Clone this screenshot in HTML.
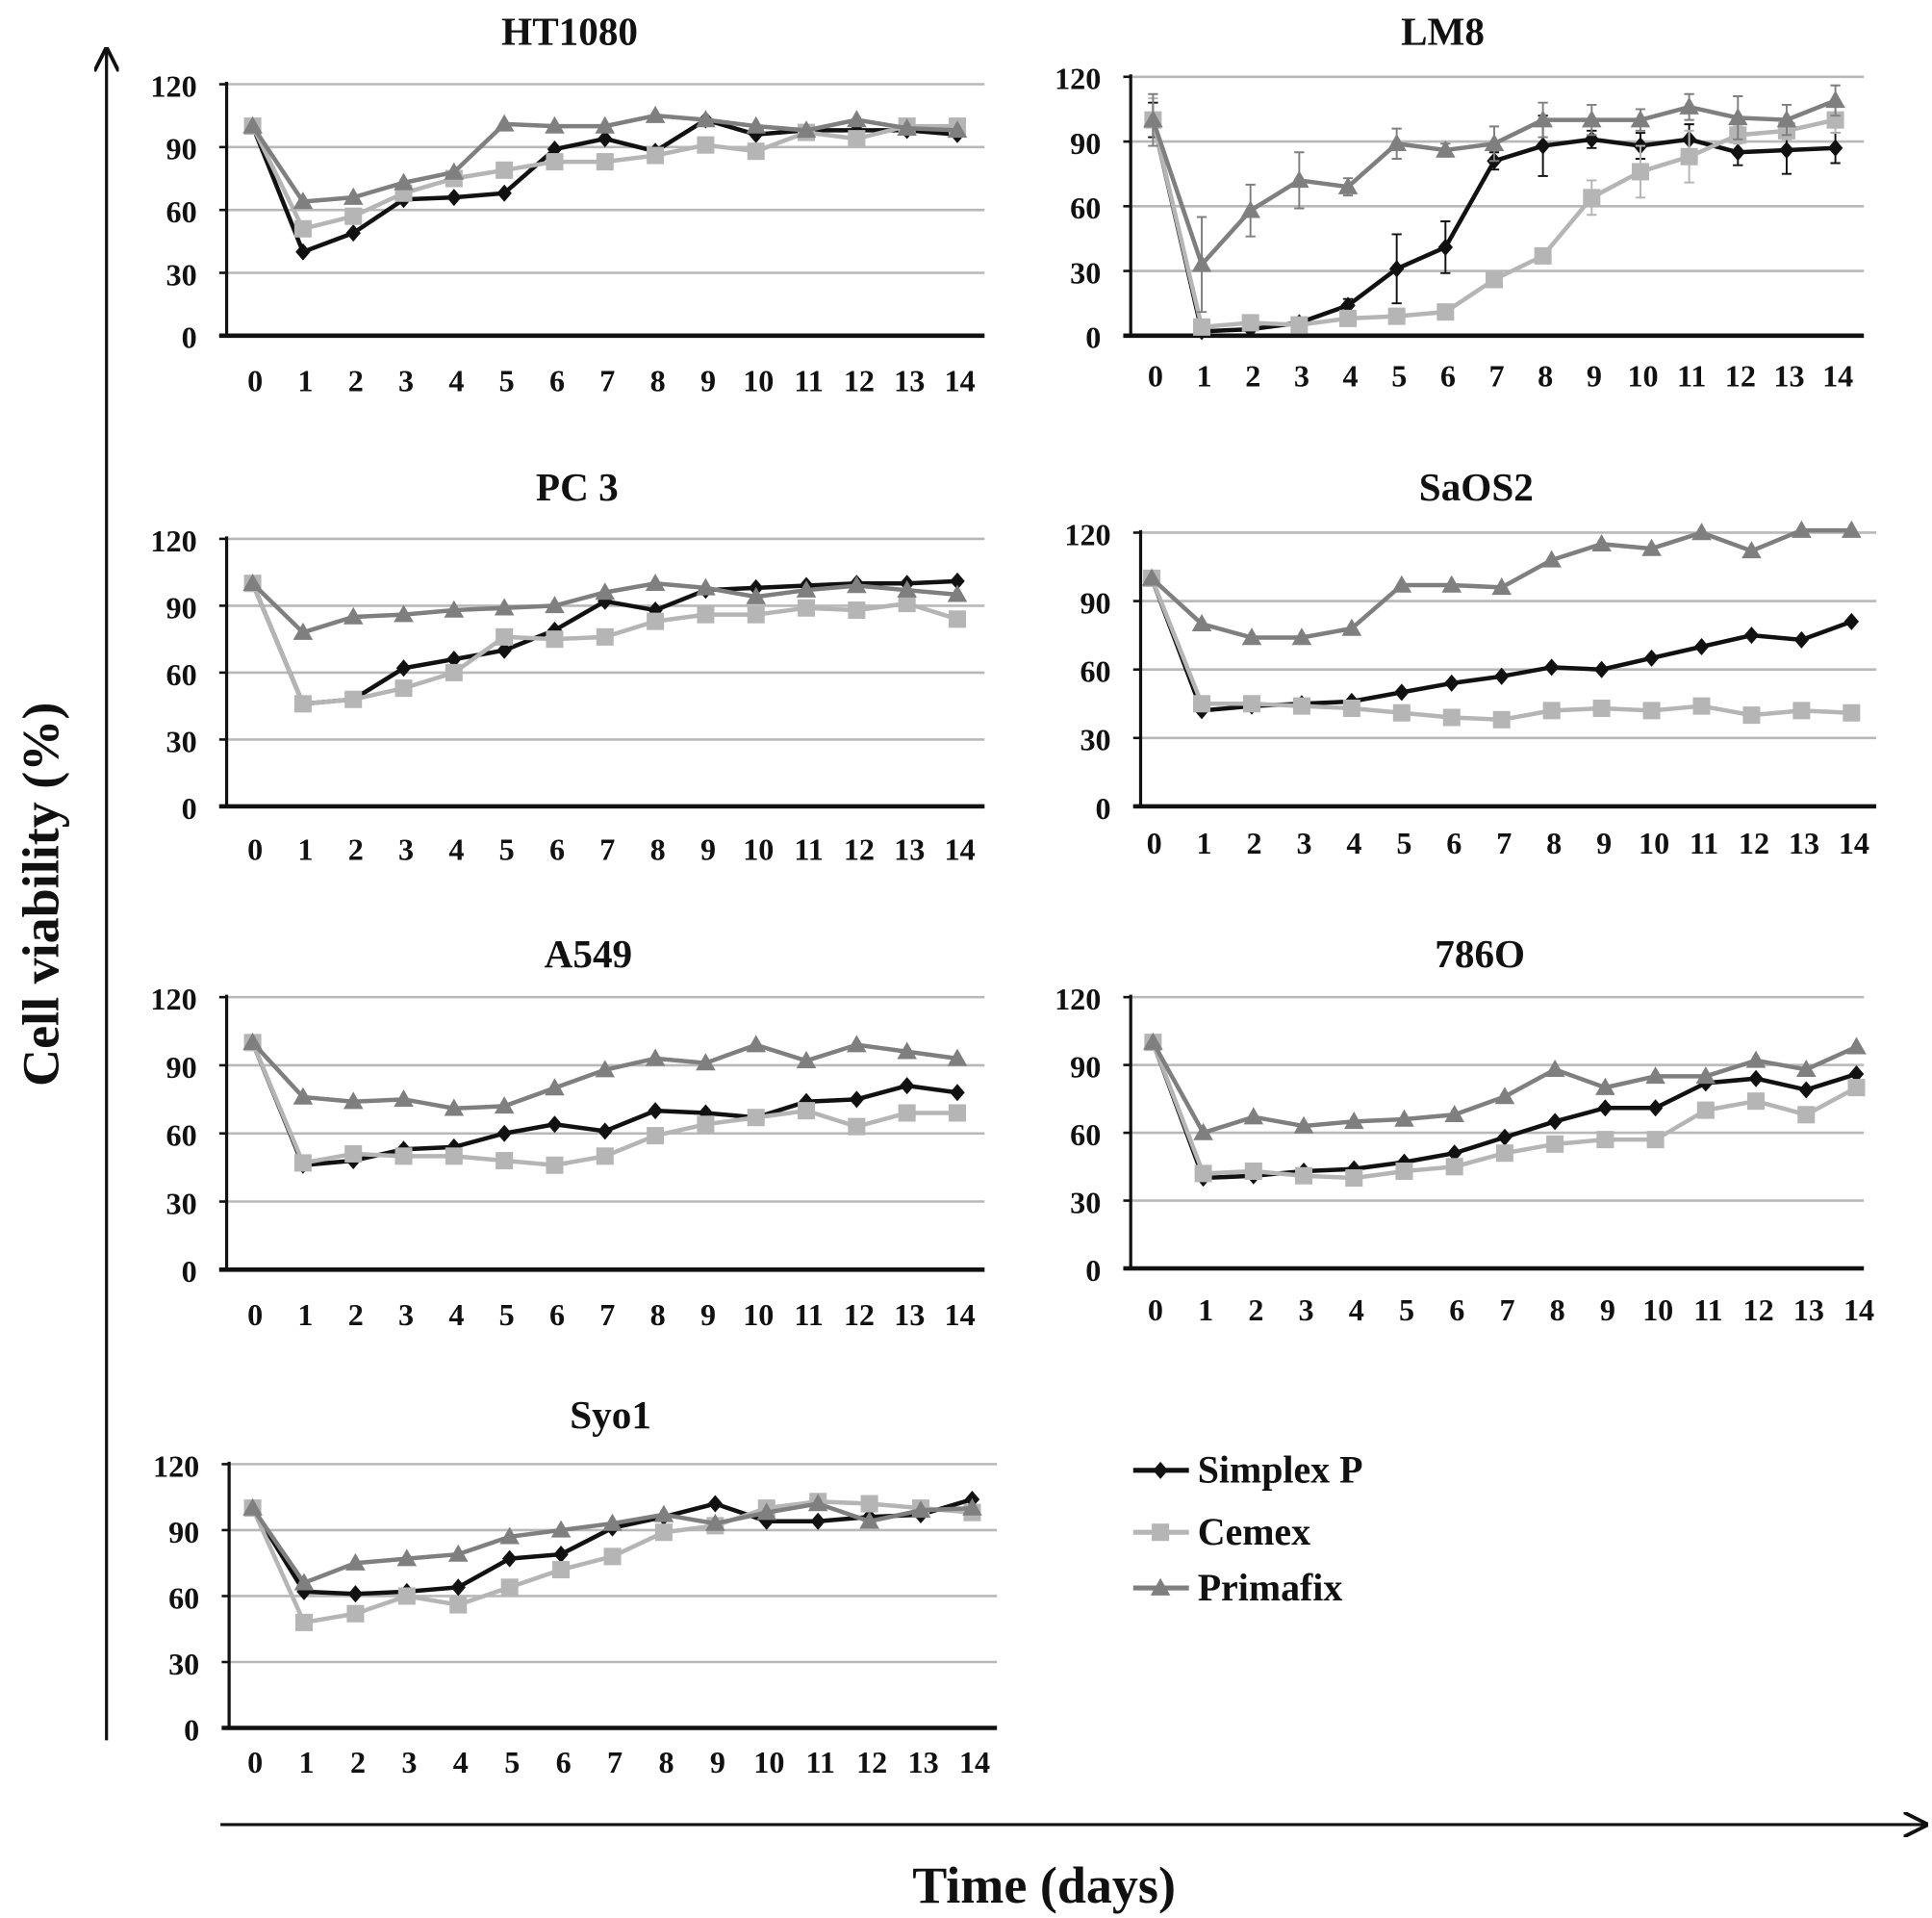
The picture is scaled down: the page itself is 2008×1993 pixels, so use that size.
<!DOCTYPE html>
<html><head><meta charset="utf-8"><style>
html,body{margin:0;padding:0;background:#fff}
svg{display:block}
text{font-family:"Liberation Serif",serif;font-weight:bold;fill:#111}
</style></head><body>
<svg id="fig" width="2008" height="1993" viewBox="0 0 1560 1548.4" preserveAspectRatio="none" xmlns="http://www.w3.org/2000/svg">
<defs>
<marker id="arr" viewBox="0 0 10 10" refX="9" refY="5" markerWidth="8" markerHeight="8" orient="auto-start-reverse"><path d="M0,0 L10,5 L0,10" fill="none" stroke="#111" stroke-width="1.5"/></marker>
</defs>
<line x1="86" y1="1405" x2="86" y2="40" stroke="#111" stroke-width="2.5" marker-end="url(#arr)"/>
<line x1="178" y1="1473" x2="1555" y2="1473" stroke="#111" stroke-width="2.5" marker-end="url(#arr)"/>
<text x="843" y="1536" font-size="42" text-anchor="middle">Time (days)</text>
<text transform="translate(47,722) rotate(-90)" font-size="42" text-anchor="middle">Cell viability (%)</text>
<g id="legend"></g>
</svg>
<script>
const days = [0,1,2,3,4,5,6,7,8,9,10,11,12,13,14];
const yTicks = [0,30,60,90,120];
const seriesNames = ["Simplex P","Cemex","Primafix"];

const ht1080Simplex = [100,40,49,65,66,68,89,94,88,103,96,98,98,98,96];
const ht1080Cemex   = [100,51,57,68,75,79,83,83,86,91,88,97,94,100,100];
const ht1080Prima   = [100,64,66,73,78,101,100,100,105,103,100,98,103,99,98];

const lm8Simplex = [100,2,3,6,14,31,41,81,88,91,88,91,85,86,87];
const lm8Cemex   = [100,4,6,5,8,9,11,26,37,64,76,83,93,95,100];
const lm8Prima   = [100,33,58,72,69,89,86,89,100,100,100,106,101,100,109];
const lm8SimplexErr = [8,1,1,2,3,16,12,4,14,4,6,7,6,11,7];
const lm8CemexErr   = [10,1,1,1,1,1,1,2,3,8,12,12,4,4,6];
const lm8PrimaErr   = [12,22,12,13,4,7,3,8,8,7,5,6,10,7,7];

const pc3Simplex = [100,46,48,62,66,70,79,92,88,97,98,99,100,100,101];
const pc3Cemex   = [100,46,48,53,60,76,75,76,83,86,86,89,88,91,84];
const pc3Prima   = [100,78,85,86,88,89,90,96,100,98,94,97,99,97,95];

const saos2Simplex = [100,42,44,45,46,50,54,57,61,60,65,70,75,73,81];
const saos2Cemex   = [100,45,45,44,43,41,39,38,42,43,42,44,40,42,41];
const saos2Prima   = [100,80,74,74,78,97,97,96,108,115,113,120,112,121,121];

const a549Simplex = [100,46,48,53,54,60,64,61,70,69,67,74,75,81,78];
const a549Cemex   = [100,47,51,50,50,48,46,50,59,64,67,70,63,69,69];
const a549Prima   = [100,76,74,75,71,72,80,88,93,91,99,92,99,96,93];

const c786Simplex = [100,40,41,43,44,47,51,58,65,71,71,82,84,79,86];
const c786Cemex   = [100,42,43,41,40,43,45,51,55,57,57,70,74,68,80];
const c786Prima   = [100,60,67,63,65,66,68,76,88,80,85,85,92,88,98];

const syo1Simplex = [100,62,61,62,64,77,79,91,96,102,94,94,96,97,104];
const syo1Cemex   = [100,48,52,60,56,64,72,78,89,92,100,103,102,100,98];
const syo1Prima   = [100,66,75,77,79,87,90,93,97,93,98,102,94,99,100];

const NS="http://www.w3.org/2000/svg";
const svg=document.getElementById('fig');
const colors=["#111111","#b5b5b5","#7f7f7f"];
function mk(tag,attrs,parent){const e=document.createElementNS(NS,tag);for(const k in attrs)e.setAttribute(k,attrs[k]);(parent||svg).appendChild(e);return e;}

const panels=[
 {id:"ht1080",title:"HT1080",tx:460,ty:36,ax:183,yTop:68,yBot:271,right:795,p0:204,p14:773,ly:316,data:[ht1080Simplex,ht1080Cemex,ht1080Prima]},
 {id:"lm8",title:"LM8",tx:1165,ty:36,ax:913,yTop:62,yBot:271,right:1505,p0:931,p14:1482,ly:312,data:[lm8Simplex,lm8Cemex,lm8Prima],err:[lm8SimplexErr,lm8CemexErr,lm8PrimaErr]},
 {id:"pc3",title:"PC 3",tx:466,ty:404,ax:183,yTop:435,yBot:651,right:795,p0:204,p14:773,ly:694,data:[pc3Simplex,pc3Cemex,pc3Prima]},
 {id:"saos2",title:"SaOS2",tx:1192,ty:404,ax:921,yTop:430,yBot:651,right:1515,p0:930,p14:1495,ly:689,data:[saos2Simplex,saos2Cemex,saos2Prima]},
 {id:"a549",title:"A549",tx:475,ty:781,ax:183,yTop:805,yBot:1025,right:795,p0:204,p14:773,ly:1070,data:[a549Simplex,a549Cemex,a549Prima]},
 {id:"786o",title:"786O",tx:1195,ty:781,ax:913,yTop:805,yBot:1024,right:1505,p0:931,p14:1499,ly:1066,data:[c786Simplex,c786Cemex,c786Prima]},
 {id:"syo1",title:"Syo1",tx:493,ty:1153,ax:185,yTop:1182,yBot:1395,right:805,p0:204,p14:785,ly:1431,data:[syo1Simplex,syo1Cemex,syo1Prima]}
];

function marker(g,k,x,y){
  let m;
  if(k===0){m=mk('path',{d:`M${x},${y-7}L${x+6},${y}L${x},${y+7}L${x-6},${y}Z`,fill:colors[0]},g);}
  else if(k===1){m=mk('rect',{x:x-7,y:y-7,width:14,height:14,fill:colors[1]},g);}
  else {m=mk('path',{d:`M${x},${y-8}L${x+8},${y+6}L${x-8},${y+6}Z`,fill:colors[2]},g);}
  return m;
}

panels.forEach(p=>{
  const g=mk('g',{});
  
  
  const X=d=>p.p0+(p.p14-p.p0)*d/14;
  const Y=v=>p.yBot-(p.yBot-p.yTop)*v/120;
  const t=mk('text',{x:p.tx,y:p.ty,'font-size':32,'text-anchor':'middle'},g);
  t.textContent=p.title;
  
  
  yTicks.forEach(v=>{
    if(v>0){const gl=mk('line',{x1:p.ax,x2:p.right,y1:Y(v),y2:Y(v),stroke:'#b8b8b8','stroke-width':2},g);
      
      }
    mk('line',{x1:p.ax-6,x2:p.ax,y1:Y(v),y2:Y(v),stroke:'#111','stroke-width':2},g);
    const tl=mk('text',{x:p.ax-24,y:Y(v)+10,'font-size':25,'text-anchor':'end'},g);
    tl.textContent=v;
    
    
  });
  const ya=mk('line',{x1:p.ax,x2:p.ax,y1:p.yTop-2,y2:p.yBot,stroke:'#111','stroke-width':2.5},g);
  
  
  const xa=mk('line',{x1:p.ax-6,x2:p.right,y1:p.yBot,y2:p.yBot,stroke:'#111','stroke-width':3.5},g);
  
  
  days.forEach(d=>{
    const xl=mk('text',{x:X(d)+2,y:p.ly,'font-size':25,'text-anchor':'middle'},g);
    xl.textContent=d;
    
    
  });
  p.data.forEach((arr,k)=>{
    const sg=mk('g',{},g);
    
    
    if(p.err){p.err[k].forEach((e,i)=>{
      const x=X(days[i]);
      mk('path',{d:`M${x},${Y(arr[i]-e)}V${Y(arr[i]+e)}M${x-4},${Y(arr[i]-e)}h8M${x-4},${Y(arr[i]+e)}h8`,stroke:colors[k],'stroke-width':1.5,fill:'none'},sg);
    });}
    const pts=arr.map((v,i)=>X(days[i])+','+Y(v)).join(' ');
    const pl=mk('polyline',{points:pts,fill:'none',stroke:colors[k],'stroke-width':3.5},sg);
    
    
    arr.forEach((v,i)=>{
      const m=marker(sg,k,X(days[i]),Y(v));
      
      
    });
  });
});

const lg=document.getElementById('legend');
const legY=[1187,1237,1282];
seriesNames.forEach((n,k)=>{
  const eg=mk('g',{},lg);
  
  
  mk('line',{x1:915,x2:960,y1:legY[k],y2:legY[k],stroke:colors[k],'stroke-width':4},eg);
  marker(eg,k,937,legY[k]);
  const t=mk('text',{x:967,y:legY[k]+10,'font-size':31},eg);
  t.textContent=n;
});
</script>
</body></html>
